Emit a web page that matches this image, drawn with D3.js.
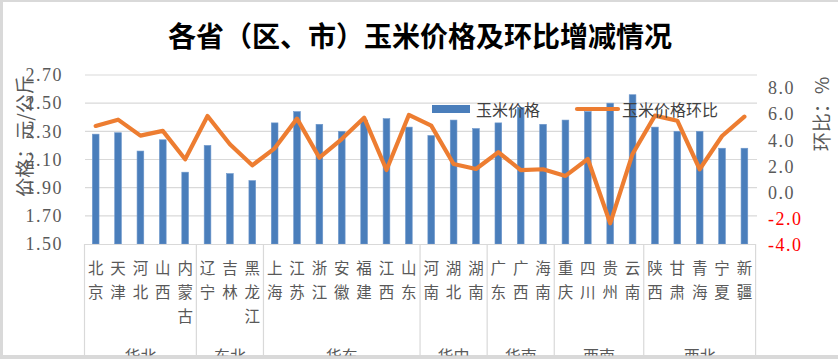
<!DOCTYPE html>
<html><head><meta charset="utf-8">
<script src="https://cdn.jsdelivr.net/npm/d3@7/dist/d3.min.js"></script>
<style>body{margin:0;background:#fff}svg{display:block}</style>
</head><body>
<svg id="c" width="838" height="359"></svg>
<script>
const provinces = ["北京","天津","河北","山西","内蒙古","辽宁","吉林","黑龙江","上海","江苏","浙江","安徽","福建","江西","山东","河南","湖北","湖南","广东","广西","海南","重庆","四川","贵州","云南","陕西","甘肃","青海","宁夏","新疆"];
const regionNames = ["华北","东北","华东","华中","华南","西南","西北"];
const regionCounts = [5,3,7,3,3,4,5];
const prices = [2.28,2.29,2.16,2.24,2.01,2.20,2.00,1.95,2.36,2.44,2.35,2.30,2.38,2.39,2.33,2.27,2.38,2.32,2.36,2.47,2.35,2.38,2.44,2.50,2.56,2.33,2.30,2.30,2.18,2.18];
const ringRatio = [5.10,5.58,4.36,4.72,2.55,5.86,3.70,2.09,3.39,5.66,2.67,4.10,5.73,1.73,5.94,5.12,2.19,1.81,3.09,1.73,1.79,1.28,2.57,-2.34,2.96,5.89,5.50,1.79,4.33,5.81];
const leftTicks = [1.50,1.70,1.90,2.10,2.30,2.50,2.70];
const rightTicks = [-4,-2,0,2,4,6,8];
const title = "各省（区、市）玉米价格及环比增减情况";
const leftTitle = "价格：元/公斤";
const rightTitle = "环比：%";
const legendNames = ["玉米价格","玉米价格环比"];

const svg = d3.select("#c");
const cjk = "'Noto Sans CJK SC','Noto Sans',sans-serif";
const numFont = "'Liberation Serif','DejaVu Serif',serif";
const gray = "#595959";

// frame
svg.append("rect").attr("width",838).attr("height",359).attr("fill","#d9d9d9");
svg.append("rect").attr("x",3).attr("y",2).attr("width",835).attr("height",353).attr("fill","#fff");

const x = d3.scaleBand().domain(provinces).range([84.5,755.6]).paddingInner(0.7).paddingOuter(0.35);
const yL = d3.scaleLinear().domain([1.5,2.7]).range([244,75]);
const yR = d3.scaleLinear().domain([-4,8]).range([245,88]);

// gridlines
svg.append("g").selectAll("line").data(leftTicks.slice(1)).join("line")
  .attr("x1",85).attr("x2",757).attr("y1",d=>yL(d)).attr("y2",d=>yL(d))
  .attr("stroke","#d9d9d9").attr("stroke-width",1.2);

// bars
svg.append("g").selectAll("rect").data(prices).join("rect")
  .attr("x",(d,i)=>x(provinces[i])).attr("width",x.bandwidth())
  .attr("y",d=>yL(d)).attr("height",d=>yL(1.5)-yL(d))
  .attr("fill","#4a7ebb").attr("stroke","#6f98cc").attr("stroke-width",0.6);

// line
const line = d3.line().x((d,i)=>x(provinces[i])+x.bandwidth()/2).y(d=>yR(d));
svg.append("path").datum(ringRatio).attr("d",line).attr("fill","none")
  .attr("stroke","#ED7D31").attr("stroke-width",4.2).attr("stroke-linejoin","round").attr("stroke-linecap","round");

// category axis box
const axG = svg.append("g");
axG.append("line").attr("x1",85).attr("x2",755.6).attr("y1",244.5).attr("y2",244.5).attr("stroke","#d9d9d9").attr("stroke-width",1.2);
let cum = 0;
const bounds = [0];
regionCounts.forEach(c=>{cum+=c;bounds.push(cum);});
const step = x.step();
axG.selectAll("line.b").data(bounds).join("line").attr("class","b")
  .attr("x1",d=>84.5+d*step).attr("x2",d=>84.5+d*step).attr("y1",244).attr("y2",359)
  .attr("stroke","#d9d9d9").attr("stroke-width",1.2);

// province labels (vertical stacked chars)
provinces.forEach((p,i)=>{
  const cx = x(p)+x.bandwidth()/2;
  Array.from(p).forEach((ch,k)=>{
    svg.append("text").attr("x",cx).attr("y",267+k*24).attr("text-anchor","middle")
      .attr("dominant-baseline","central").attr("font-family",cjk).attr("font-size",15.5)
      .attr("fill",gray).text(ch);
  });
});
// region labels
regionNames.forEach((r,i)=>{
  const cx = 84.5+(bounds[i]+bounds[i+1])/2*step;
  svg.append("text").attr("x",cx).attr("y",355).attr("text-anchor","middle")
    .attr("dominant-baseline","central").attr("font-family",cjk).attr("font-size",16)
    .attr("fill",gray).text(r);
});

// left axis
const la = svg.append("g").attr("transform","translate(63,0)")
  .call(d3.axisLeft(yL).tickValues(leftTicks).tickSize(0).tickPadding(0).tickFormat(d3.format(".2f")));
la.select(".domain").remove();
la.selectAll("text").attr("font-family",numFont).attr("font-size",18).attr("fill",gray).attr("letter-spacing","1.5px");

// right axis
const ra = svg.append("g").attr("transform","translate(768,0)")
  .call(d3.axisRight(yR).tickValues(rightTicks).tickSize(0).tickPadding(0).tickFormat(d3.format(".1f")));
ra.select(".domain").remove();
ra.selectAll("text").attr("font-family",numFont).attr("font-size",18).attr("letter-spacing","1.5px")
  .attr("fill",d=>d<0?"#ff0000":gray).text(d=>d3.format(".1f")(d).replace("−","-"));

// axis titles
svg.append("text").attr("transform","translate(23,136) rotate(-90)").attr("text-anchor","middle")
  .attr("dominant-baseline","central").attr("font-family",cjk).attr("font-size",19).attr("fill",gray).text(leftTitle);
svg.append("text").attr("transform","translate(820,114) rotate(-90)").attr("text-anchor","middle")
  .attr("dominant-baseline","central").attr("font-family",cjk).attr("font-size",19).attr("fill",gray).text(rightTitle);

// title
svg.append("text").attr("x",420).attr("y",47).attr("text-anchor","middle")
  .attr("font-family",cjk).attr("font-weight","bold").attr("font-size",28).attr("fill","#000").text(title);

// legend
const lg = svg.append("g");
lg.append("rect").attr("x",432).attr("y",105).attr("width",38).attr("height",8).attr("fill","#4a7ebb");
lg.append("text").attr("x",476).attr("y",109).attr("dominant-baseline","central").attr("font-family",cjk)
  .attr("font-size",16).attr("fill","#404040").text(legendNames[0]);
lg.append("line").attr("x1",577).attr("x2",618).attr("y1",109).attr("y2",109).attr("stroke","#ED7D31").attr("stroke-width",4.2).attr("stroke-linecap","round");
lg.append("text").attr("x",622).attr("y",109).attr("dominant-baseline","central").attr("font-family",cjk)
  .attr("font-size",16).attr("fill","#404040").text(legendNames[1]);

// bottom frame on top (clips region labels as in the reference)
svg.append("rect").attr("x",0).attr("y",355.5).attr("width",838).attr("height",4).attr("fill","#d9d9d9");
</script>
</body></html>
